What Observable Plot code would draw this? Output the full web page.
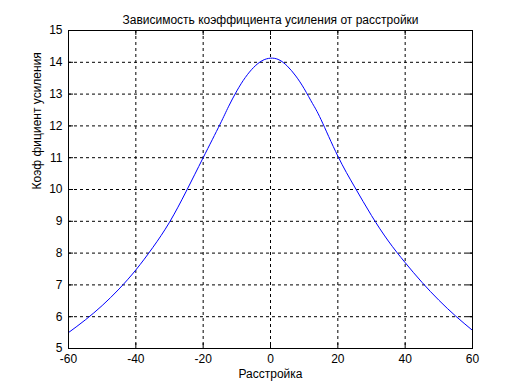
<!DOCTYPE html>
<html>
<head>
<meta charset="utf-8">
<script src="https://cdn.jsdelivr.net/npm/d3@7"></script>
<script src="https://cdn.jsdelivr.net/npm/@observablehq/plot@0.6"></script>
<style>
  body { margin: 0; background: #fff; }
</style>
</head>
<body>
<div id="chart"></div>
<script>
const titleText = "Зависимость коэффициента усиления от расстройки";
const xLabel = "Расстройка";
const yLabel = "Коэф фициент усиления";

const detuning = [-60, -55, -50, -45, -40, -35, -30, -25, -20, -15, -12.5, -10, -7.5, -5, -2.5, 0, 2.5, 5, 7.5, 10, 12.5, 15, 20, 25, 30, 35, 40, 45, 50, 55, 60];
const gain =     [5.50, 5.90, 6.35, 6.87, 7.47, 8.17, 8.97, 9.95, 11.0, 12.05, 12.6, 13.1, 13.52, 13.84, 14.05, 14.13, 14.08, 13.88, 13.57, 13.17, 12.70, 12.20, 11.05, 10.08, 9.18, 8.38, 7.70, 7.08, 6.52, 6.02, 5.57];

const xTicks = [-60, -40, -20, 0, 20, 40, 60];
const yTicks = [5, 6, 7, 8, 9, 10, 11, 12, 13, 14, 15];

const data = detuning.map((x, i) => ({x, y: gain[i]}));

const W = 521, H = 391, mL = 68, mR = 49, mT = 30, mB = 43;
const ih = H - mT - mB, iw = W - mL - mR;
const tl = 5;

const chart = Plot.plot({
  width: W,
  height: H,
  marginLeft: mL,
  marginRight: mR,
  marginTop: mT,
  marginBottom: mB,
  style: {fontFamily: "'Liberation Sans', Arial, sans-serif", fontSize: "12px", background: "#fff", color: "#000"},
  x: {domain: [-60, 60], ticks: xTicks, label: null},
  y: {domain: [5, 15], ticks: yTicks, label: null},
  marks: [
    Plot.ruleX(xTicks.slice(1, -1), {stroke: "#000", strokeDasharray: "3,3", strokeWidth: 1}),
    Plot.ruleY(yTicks.slice(1, -1), {stroke: "#000", strokeDasharray: "3,3", strokeWidth: 1}),
    Plot.tickX(xTicks, {x: d => d, stroke: "#000", insetTop: ih - tl}),
    Plot.tickX(xTicks, {x: d => d, stroke: "#000", insetBottom: ih - tl}),
    Plot.tickY(yTicks, {y: d => d, stroke: "#000", insetRight: iw - tl}),
    Plot.tickY(yTicks, {y: d => d, stroke: "#000", insetLeft: iw - tl}),
    Plot.axisX(xTicks, {tickSize: 0, tickPadding: 6, label: null, fontSize: 12, tickFormat: d => String(d)}),
    Plot.axisY(yTicks, {tickSize: 0, tickPadding: 6, label: null, fontSize: 12, tickFormat: d => String(d)}),
    Plot.line(data, {x: "x", y: "y", stroke: "#0000ff", strokeWidth: 1, curve: "natural"}),
    Plot.frame({stroke: "#000", strokeWidth: 1}),
    Plot.text([titleText], {text: d => d, frameAnchor: "top", dy: -15, fontSize: 12}),
    Plot.text([xLabel], {text: d => d, frameAnchor: "bottom", dy: 29, fontSize: 12}),
    Plot.text([yLabel], {text: d => d, frameAnchor: "left", dx: -31, rotate: -90, fontSize: 12})
  ]
});

document.getElementById("chart").appendChild(chart);
</script>
</body>
</html>
